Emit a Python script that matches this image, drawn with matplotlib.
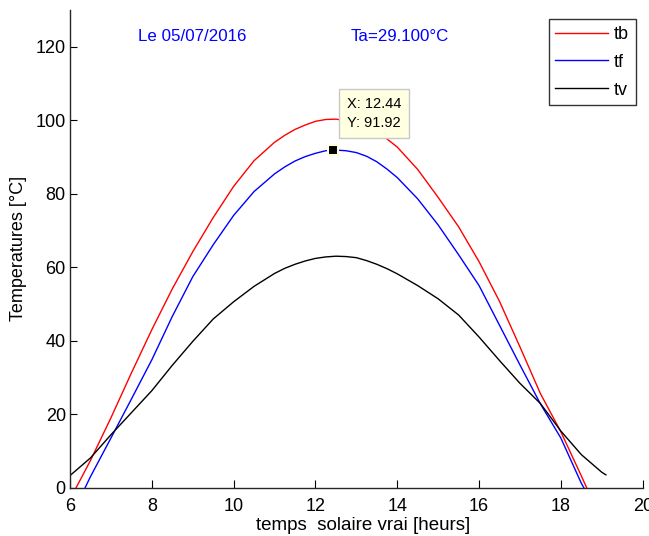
import matplotlib
matplotlib.use("Agg")
import matplotlib.pyplot as plt

plt.rcParams['font.family'] = ['Liberation Sans', 'DejaVu Sans']

# Data
tb_x = [6.15, 6.5, 7.0, 7.5, 8.0, 8.5, 9.0, 9.5, 10.0, 10.5, 11.0, 11.25, 11.5, 11.75, 12.0,
        12.25, 12.5, 12.75, 13.0, 13.25, 13.5, 13.75, 14.0, 14.5, 15.0, 15.5, 16.0, 16.5,
        17.0, 17.5, 18.0, 18.5, 18.63]
tb_y = [0.0, 7.4, 19.0, 31.2, 43.0, 54.1, 64.2, 73.5, 82.0, 89.0, 94.0, 95.9, 97.5, 98.7, 99.7,
        100.2, 100.3, 99.9, 99.2, 98.1, 96.7, 94.9, 92.7, 86.6, 79.0, 71.0, 61.5, 50.7,
        38.3, 25.6, 15.2, 3.2, 0.0]

tf_x = [6.37, 6.5, 7.0, 7.5, 8.0, 8.5, 9.0, 9.5, 10.0, 10.5, 11.0, 11.25, 11.5, 11.75, 12.0,
        12.25, 12.44, 12.75, 13.0, 13.25, 13.5, 13.75, 14.0, 14.5, 15.0, 15.5, 16.0, 16.5,
        17.0, 17.5, 18.0, 18.5, 18.56]
tf_y = [0.0, 3.0, 13.5, 24.1, 34.8, 46.6, 57.4, 66.1, 74.1, 80.6, 85.4, 87.3, 88.9, 90.1, 91.0,
        91.7, 91.92, 91.7, 91.2, 90.2, 88.7, 86.7, 84.4, 78.6, 71.5, 63.4, 55.0, 44.2,
        33.4, 22.8, 13.5, 1.2, 0.0]

tv_x = [6.0, 6.5, 7.0, 7.5, 8.0, 8.5, 9.0, 9.5, 10.0, 10.5, 11.0, 11.25, 11.5, 11.75, 12.0,
        12.25, 12.5, 12.75, 13.0, 13.25, 13.5, 13.75, 14.0, 14.5, 15.0, 15.5, 16.0, 16.5,
        17.0, 17.5, 18.0, 18.5, 19.0, 19.1]
tv_y = [3.3, 8.1, 14.4, 20.4, 26.4, 33.3, 39.8, 45.9, 50.6, 54.8, 58.3, 59.7, 60.8, 61.7, 62.4,
        62.8, 63.0, 62.9, 62.6, 61.8, 60.8, 59.6, 58.2, 55.0, 51.4, 47.0, 41.0, 34.6,
        28.4, 22.9, 15.4, 9.0, 4.2, 3.5]

labels = ['tb', 'tf', 'tv']
tip_x, tip_y = 12.44, 91.92
x_ticks = [6, 8, 10, 12, 14, 16, 18, 20]
y_ticks = [0, 20, 40, 60, 80, 100, 120]

fig = plt.figure(figsize=(6.49, 5.36), dpi=100)
ax = fig.add_axes([70/649, 48.3/536, 572.7/649, 477.7/536])

ax.plot(tb_x, tb_y, color='#ff0000', lw=1.0, label=labels[0])
ax.plot(tf_x, tf_y, color='#0000ff', lw=1.0, label=labels[1])
ax.plot(tv_x, tv_y, color='#000000', lw=1.0, label=labels[2])

ax.set_xlim(6, 20)
ax.set_ylim(0, 130)
ax.set_xticks(x_ticks)
ax.set_yticks(y_ticks)
ax.tick_params(axis='both', direction='in', labelsize=13, colors='black')
ax.tick_params(axis='x', length=6, pad=7.5)
ax.tick_params(axis='y', length=5, pad=3)
for s in ['top', 'right']:
    ax.spines[s].set_visible(False)
for s in ['left', 'bottom']:
    ax.spines[s].set_color('#262626')
    ax.spines[s].set_linewidth(1.0)

ax.set_xlabel('temps  solaire vrai [heurs]', fontsize=13.5)
ax.xaxis.set_label_coords((363 - 70) / 572.7, (487.7 - 525) / 477.7)
ax.xaxis.label.set_va('center')
ax.set_ylabel('Temperatures [°C]', fontsize=13, labelpad=6)

ax.text(7.66, 122.9, 'Le 05/07/2016', color='#0000ff', fontsize=12.2, va='center', ha='left')
ax.text(12.85, 122.9, 'Ta=29.100°C', color='#0000ff', fontsize=12.2, va='center', ha='left')

leg = ax.legend(loc='upper right', bbox_to_anchor=(1 - 6.7/572.7, 1 - 9/477.7),
                fontsize=13, frameon=True, fancybox=False, shadow=False,
                handlelength=2.9, handletextpad=0.35, labelspacing=0.6,
                borderpad=0.38, borderaxespad=0)
leg.get_frame().set_edgecolor('black')
leg.get_frame().set_linewidth(1.0)

# data tip
ax.plot([tip_x], [tip_y], marker='s', markersize=7, color='black',
        markeredgecolor='#ffffe1', markeredgewidth=1.5, zorder=5)
ax.annotate('X: 12.44\nY: 91.92', xy=(tip_x, tip_y), xytext=(347, 536 - 97),
            xycoords='data', textcoords='figure pixels', fontsize=10.5,
            ha='left', va='top', linespacing=1.45,
            bbox=dict(boxstyle='square,pad=0.55', fc='#ffffe1', ec='#c8c8c8', lw=1.0),
            zorder=6)

fig.savefig('out.png', dpi=100)
